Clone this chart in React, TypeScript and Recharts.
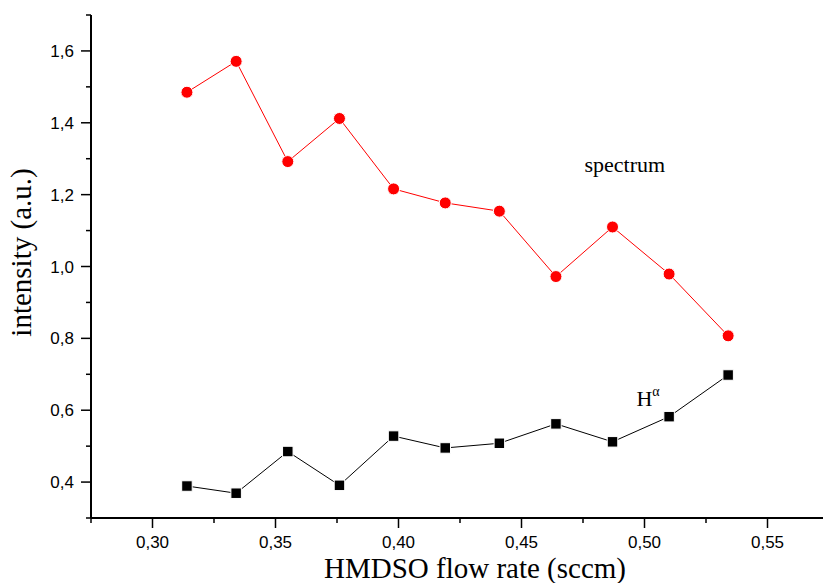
import { LineChart, Line, XAxis, YAxis, ReferenceDot } from "recharts"

// HMDSO flow rate (sccm) and the two intensity series
const flowRate = [0.314, 0.334, 0.355, 0.376, 0.398, 0.419, 0.441, 0.464, 0.487, 0.510, 0.534]
const spectrum = [1.485, 1.571, 1.292, 1.412, 1.216, 1.177, 1.154, 0.972, 1.110, 0.979, 0.807]
const hAlpha   = [0.389, 0.369, 0.485, 0.391, 0.528, 0.495, 0.508, 0.562, 0.512, 0.582, 0.698]

const xDomain = [0.275, 0.575]
const yDomain = [0.3, 1.7]
const xTicks = [0.30, 0.35, 0.40, 0.45, 0.50, 0.55]
const xMinorTicks = [0.275, 0.325, 0.375, 0.425, 0.475, 0.525, 0.575]
const yTicks = [0.4, 0.6, 0.8, 1.0, 1.2, 1.4, 1.6]
const yMinorTicks = [0.3, 0.5, 0.7, 0.9, 1.1, 1.3, 1.5, 1.7]

// where the two series names sit (data coords)
const spectrumLabelAt = { x: 0.492, y: 1.262 }
const hAlphaLabelAt = { x: 0.4967, y: 0.613 }

const rows = flowRate.map((x, i) => ({ x, spectrum: spectrum[i], hAlpha: hAlpha[i] }))

const SANS = "'Liberation Sans', Arial, sans-serif"
const SERIF = "'Liberation Serif', 'Times New Roman', serif"

const isIn = (list: number[], v: number) => list.some((t) => Math.abs(t - v) < 1e-9)

function comma(v: number, digits: number) {
  return v.toFixed(digits).replace(".", ",")
}

// tick marks + labels drawn by hand: major/minor lengths differ like in Origin
function makeTick(side: "left" | "bottom" | "top" | "right") {
  return function Tick(props: any) {
    const { x, y, payload } = props
    const v = payload.value
    const major = side === "left" || side === "right" ? isIn(yTicks, v) : isIn(xTicks, v)
    const len = major ? 10 : 5
    const ln = { stroke: "#000", strokeWidth: 1.5 }
    if (side === "left") {
      return (
        <g>
          <line x1={x - len} x2={x} y1={y} y2={y} {...ln} />
          {major && (
            <text x={x - 17} y={y} dy="0.36em" textAnchor="end" style={{ fontFamily: SANS, fontSize: 17, fill: "#000" }}>
              {comma(v, 1)}
            </text>
          )}
        </g>
      )
    }
    if (side === "bottom") {
      return (
        <g>
          <line x1={x} x2={x} y1={y} y2={y + len} {...ln} />
          {major && (
            <text x={x} y={y + 30} textAnchor="middle" style={{ fontFamily: SANS, fontSize: 17, fill: "#000" }}>
              {comma(v, 2)}
            </text>
          )}
        </g>
      )
    }
    if (!major) return <g />
    if (side === "top") return <line x1={x} x2={x} y1={y} y2={y + 3} {...ln} />
    return <line x1={x - 3} x2={x} y1={y} y2={y} {...ln} />
  }
}

function SquareDot(props: any) {
  const { cx, cy, index } = props
  if (cx == null || cy == null) return null
  const s = 10.5
  return <rect key={index} x={cx - s / 2} y={cy - s / 2} width={s} height={s} fill="#000" stroke="#fff" strokeWidth={1} />
}

function YTitle(props: any) {
  const vb = props.viewBox || { x: 0, y: 0, width: 0, height: 0 }
  const x = vb.x + 31
  const y = vb.y + vb.height / 2 - 14
  return (
    <text x={x} y={y} transform={`rotate(-90 ${x} ${y})`} textAnchor="middle"
      style={{ fontFamily: SERIF, fontSize: 29, fill: "#000" }}>
      intensity (a.u.)
    </text>
  )
}

function XTitle(props: any) {
  const vb = props.viewBox || { x: 0, y: 0, width: 0, height: 0 }
  return (
    <text x={vb.x + vb.width / 2 + 15} y={vb.y + 60} textAnchor="middle"
      style={{ fontFamily: SERIF, fontSize: 29, fill: "#000" }}>
      HMDSO flow rate (sccm)
    </text>
  )
}

function SpectrumText(props: any) {
  const vb = props.viewBox || { x: 0, y: 0 }
  return (
    <text x={vb.x} y={vb.y} textAnchor="middle" style={{ fontFamily: SERIF, fontSize: 22, fill: "#000" }}>
      spectrum
    </text>
  )
}

function HAlphaText(props: any) {
  const vb = props.viewBox || { x: 0, y: 0 }
  return (
    <text x={vb.x} y={vb.y} textAnchor="start" style={{ fontFamily: SERIF, fontSize: 22, fill: "#000" }}>
      H<tspan dy={-10} style={{ fontSize: 14 }}>α</tspan>
    </text>
  )
}

const axisLine = { stroke: "#000", strokeWidth: 2 }

export default function App() {
  return (
    <div style={{ position: "absolute", left: 0, top: 0, width: 823, height: 583, overflow: "hidden", background: "#fff" }}>
      <LineChart width={840} height={583} data={rows} margin={{ top: 15, right: 11, bottom: 0, left: 0 }}>
        <XAxis xAxisId="main" type="number" dataKey="x" domain={xDomain}
          ticks={[...xTicks, ...xMinorTicks].sort((a, b) => a - b)} interval={0}
          height={65} tickSize={0} tickMargin={0} tickLine={false} tick={makeTick("bottom")}
          axisLine={axisLine} label={<XTitle />} />
        <XAxis xAxisId="top" orientation="top" type="number" dataKey="x" domain={xDomain} ticks={xTicks} interval={0}
          height={0} tickSize={0} tickMargin={0} tickLine={false} tick={makeTick("top")} axisLine={axisLine} />

        <YAxis yAxisId="main" type="number" domain={yDomain}
          ticks={[...yTicks, ...yMinorTicks].sort((a, b) => a - b)} interval={0}
          width={91} tickSize={0} tickMargin={0} tickLine={false} tick={makeTick("left")}
          axisLine={axisLine} label={<YTitle />} />
        <YAxis yAxisId="right" orientation="right" type="number" domain={yDomain} ticks={yTicks} interval={0}
          width={0} tickSize={0} tickMargin={0} tickLine={false} tick={makeTick("right")} axisLine={axisLine} />

        <Line xAxisId="main" yAxisId="main" type="linear" dataKey="spectrum" stroke="#ff0000" strokeWidth={1}
          dot={{ r: 6, fill: "#ff0000", stroke: "#fff", strokeWidth: 1 }} activeDot={false}
          isAnimationActive={false} />
        <Line xAxisId="main" yAxisId="main" type="linear" dataKey="hAlpha" stroke="#000" strokeWidth={1}
          dot={<SquareDot />} activeDot={false} isAnimationActive={false} />

        <ReferenceDot xAxisId="main" yAxisId="main" x={spectrumLabelAt.x} y={spectrumLabelAt.y} r={0}
          fill="none" stroke="none" label={<SpectrumText />} />
        <ReferenceDot xAxisId="main" yAxisId="main" x={hAlphaLabelAt.x} y={hAlphaLabelAt.y} r={0}
          fill="none" stroke="none" label={<HAlphaText />} />
      </LineChart>
    </div>
  )
}
